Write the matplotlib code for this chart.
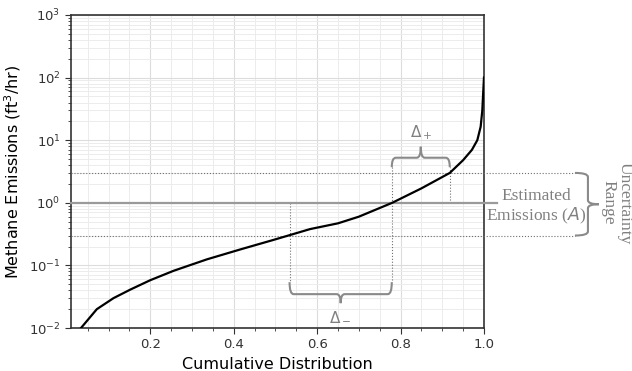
import numpy as np
import matplotlib
matplotlib.use('Agg')
import matplotlib.pyplot as plt
from matplotlib.path import Path
from matplotlib.patches import PathPatch
from matplotlib.transforms import IdentityTransform
from matplotlib.ticker import MultipleLocator, LogLocator

# Curve (cumulative fraction vs emission rate)
cdf = [0.034, 0.072, 0.112, 0.152, 0.2, 0.256, 0.336, 0.416, 0.495, 0.531,
       0.583, 0.65, 0.7, 0.78, 0.85, 0.918, 0.95, 0.971, 0.984, 0.992,
       0.996, 0.998, 1.0]
emis = [0.010, 0.020, 0.030, 0.041, 0.058, 0.082, 0.125, 0.18, 0.255, 0.30,
        0.38, 0.47, 0.60, 1.0, 1.7, 3.0, 4.8, 7.0, 10, 16.4,
        30, 56, 100]

# Estimate and its uncertainty band
estimate = 1.0
upper = 3.0
lower = 0.3
q_lower, q_est, q_upper = 0.534, 0.779, 0.918

gray = '#808080'

fig = plt.figure(figsize=(6.32, 3.71), dpi=100)
ax = fig.add_axes([0.1123, 0.1159, 0.6535, 0.8437])

ax.set_yscale('log')
ax.set_xlim(0.01, 1.0)
ax.set_ylim(1e-2, 1e3)
ax.xaxis.set_major_locator(MultipleLocator(0.2))
ax.xaxis.set_minor_locator(MultipleLocator(0.05))
ax.yaxis.set_major_locator(LogLocator(base=10))
ax.yaxis.set_minor_locator(LogLocator(base=10, subs=np.arange(2, 10)))
ax.grid(which='major', color='#dcdcdc', lw=0.8)
ax.grid(which='minor', color='#ececec', lw=0.7)
ax.set_axisbelow(True)
for s in ax.spines.values():
    s.set_color('#333333')
    s.set_linewidth(1.2)
ax.tick_params(which='both', direction='out', colors='#333333', labelsize=9.5)
ax.tick_params(which='major', length=4)
ax.tick_params(which='minor', length=2.5)

ax.plot(cdf, emis, color='black', lw=1.6, zorder=5)

ax.set_xlabel('Cumulative Distribution', fontsize=11.5)
ax.set_ylabel('Methane Emissions (ft$^3$/hr)', fontsize=11.5)

# reference lines
ax.plot([0.01, 1.031], [estimate, estimate], color='#9a9a9a', lw=1.6,
        clip_on=False, zorder=4)
for v in (upper, lower):
    ax.plot([0.01, 1.218], [v, v], color='#707070', lw=0.8, ls=':',
            clip_on=False, zorder=4)

top_b = 3.7
bot_b = 0.054
ax.plot([q_lower, q_lower], [estimate, bot_b], color='#707070', lw=0.8, ls=':')
ax.plot([q_est, q_est], [top_b, bot_b], color='#707070', lw=0.8, ls=':')
ax.plot([q_upper, q_upper], [estimate, top_b], color='#707070', lw=0.8, ls=':')


def brace(p0, p1, normal, d, t, r=4):
    # p0, p1 in data coords; normal, d, t in pixels
    a = ax.transData.transform(p0)
    b = ax.transData.transform(p1)
    n = np.array(normal, float)
    u = (b - a) / np.linalg.norm(b - a)
    m = (a + b) / 2
    verts = [a, a + n * d, a + n * d + u * r,
             m + n * d - u * r, m + n * d, m + n * (d + t),
             m + n * d, m + n * d + u * r,
             b + n * d - u * r, b + n * d, b]
    codes = [Path.MOVETO, Path.CURVE3, Path.CURVE3,
             Path.LINETO, Path.CURVE3, Path.CURVE3,
             Path.CURVE3, Path.CURVE3,
             Path.LINETO, Path.CURVE3, Path.CURVE3]
    patch = PathPatch(Path(verts, codes), fc='none', ec='#8a8a8a', lw=1.5,
                      transform=IdentityTransform(), clip_on=False, zorder=6)
    fig.add_artist(patch)


brace((q_est, top_b), (q_upper, top_b), (0, 1), 9.5, 11)
brace((q_lower, bot_b), (q_est, bot_b), (0, -1), 12, 9)
brace((1.218, upper), (1.218, lower), (1, 0), 13, 11)

ax.text((q_est + q_upper) / 2, 13, r'$\Delta_+$', color=gray, fontsize=11,
        ha='center', va='center')
ax.text((q_lower + q_est) / 2, 0.015, r'$\Delta_-$', color=gray, fontsize=11,
        ha='center', va='center')
ax.text(1.125, 0.86, 'Estimated\nEmissions ($A$)', color=gray, fontsize=12.5,
        family='Liberation Serif', ha='center', va='center', linespacing=1.15,
        clip_on=False)
ax.text(1.318, 1.0, 'Uncertainty\nRange', color=gray, fontsize=12.5,
        family='Liberation Serif', rotation=270, ha='center', va='center',
        rotation_mode='anchor', linespacing=1.0, clip_on=False)

fig.savefig('out.png', dpi=100)
